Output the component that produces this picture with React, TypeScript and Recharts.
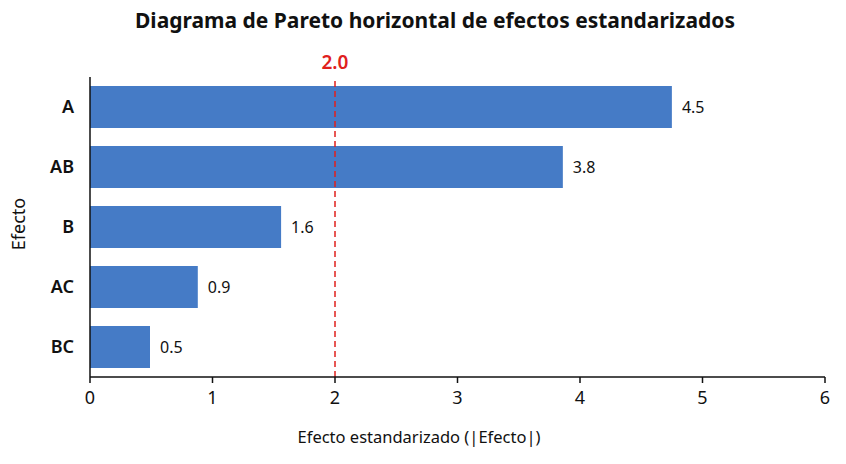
import React from "react";
import { BarChart, Bar, XAxis, YAxis, ReferenceLine, LabelList, Label } from "recharts";

const categories = ["A", "AB", "B", "AC", "BC"];
const effectValues = [4.75, 3.86, 1.56, 0.88, 0.49];
const effectLabels = ["4.5", "3.8", "1.6", "0.9", "0.5"];
const xTicks = [0, 1, 2, 3, 4, 5, 6];
const threshold = 2.0;
const thresholdLabel = "2.0";

const data = categories.map((name, i) => ({
  name,
  value: effectValues[i],
  label: effectLabels[i],
}));

const FONT = "'Noto Sans', 'Open Sans', sans-serif";
const BAR_COLOR = "#457bc6";
const RED = "#e0201c";
const INK = "#111111";

const YTitle = (props: any) => {
  const vb = props.viewBox || { x: 0, y: 0, width: 90, height: 300 };
  const cx = vb.x + 17.5;
  const cy = vb.y + vb.height / 2 - 3;
  return (
    <text
      x={cx}
      y={cy}
      transform={`rotate(-90, ${cx}, ${cy})`}
      textAnchor="middle"
      dominantBaseline="central"
      fontSize={18}
      fontFamily={FONT}
      fill={INK}
    >
      Efecto
    </text>
  );
};

const XTitle = () => (
  <text x={419} y={443} textAnchor="middle" fontSize={16.5} fontFamily={FONT} fill={INK}>
    Efecto estandarizado (|Efecto|)
  </text>
);

export default function App() {
  return (
    <div style={{ position: "absolute", left: 0, top: 0, width: 846, height: 464, background: "#fff" }}>
      <div
        style={{
          position: "absolute",
          left: 0,
          top: 5,
          width: 870,
          textAlign: "center",
          fontFamily: FONT,
          fontWeight: 700,
          fontSize: 21,
          lineHeight: "30px",
          color: INK,
        }}
      >
        Diagrama de Pareto horizontal de efectos estandarizados
      </div>
      <BarChart
        width={846}
        height={464}
        data={data}
        layout="vertical"
        margin={{ top: 77, right: 21, bottom: 0, left: 0 }}
        barSize={42}
      >
        <XAxis
          type="number"
          domain={[0, 6]}
          ticks={xTicks}
          height={87}
          axisLine={{ stroke: INK, strokeWidth: 1.5 }}
          tickLine={{ stroke: INK, strokeWidth: 1.5 }}
          tickSize={6}
          tickMargin={8}
          tick={{ fontSize: 18, fontFamily: FONT, fill: INK }}
          interval={0}
        >
          <Label content={<XTitle />} />
        </XAxis>
        <YAxis
          type="category"
          dataKey="name"
          width={90}
          axisLine={{ stroke: INK, strokeWidth: 1.5 }}
          tickLine={false}
          tickSize={6}
          tickMargin={10}
          tick={{ fontSize: 18, fontFamily: FONT, fontWeight: 600, fill: INK }}
          interval={0}
        >
          <Label content={<YTitle />} />
        </YAxis>
        <Bar dataKey="value" fill={BAR_COLOR} isAnimationActive={false}>
          <LabelList
            dataKey="label"
            position="right"
            offset={10}
            fontSize={16}
            fontFamily={FONT}
            fill={INK}
          />
        </Bar>
        <ReferenceLine
          x={threshold}
          stroke={RED}
          strokeWidth={1.5}
          strokeDasharray="6 4"
          label={{
            value: thresholdLabel,
            position: "top",
            offset: 8,
            fill: RED,
            fontSize: 19,
            fontWeight: 600,
            fontFamily: FONT,
          }}
        />
      </BarChart>
    </div>
  );
}
